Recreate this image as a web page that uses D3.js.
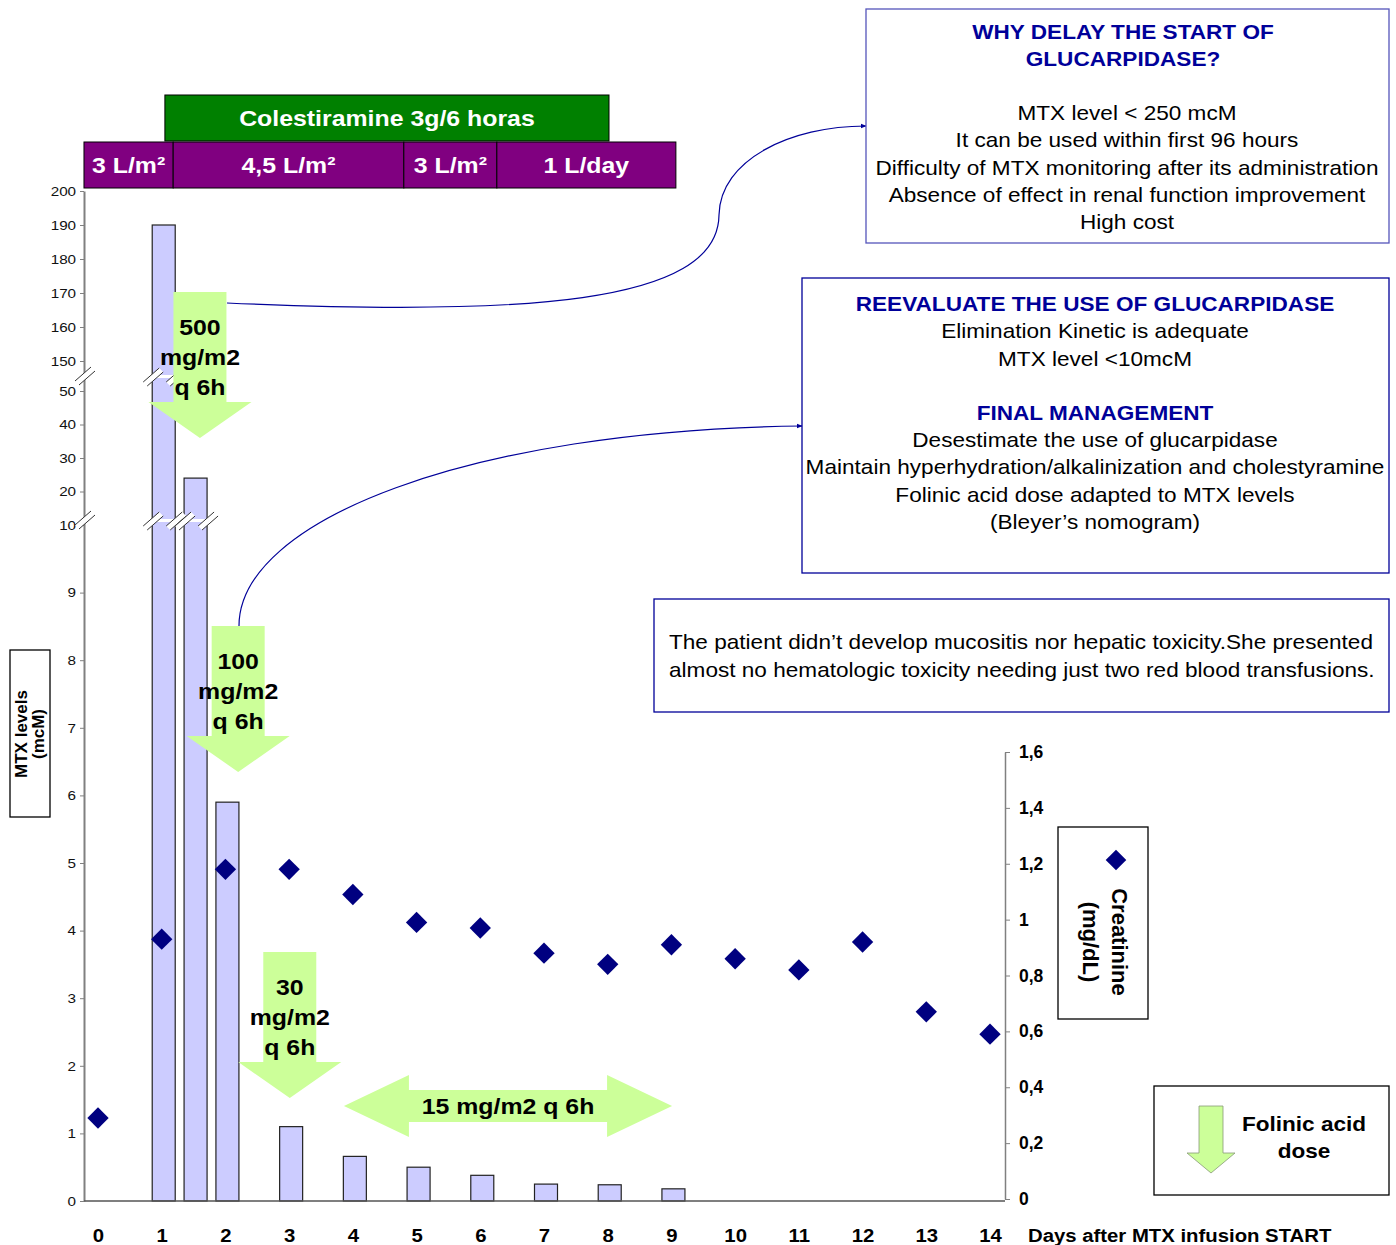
<!DOCTYPE html>
<html>
<head>
<meta charset="utf-8">
<script src="https://cdn.jsdelivr.net/npm/d3@7"></script>
<style>
  body { margin: 0; background: #fff; }
  svg { font-family: "Liberation Sans", Arial, sans-serif; }
</style>
</head>
<body>
<div id="chart"></div>
<script>
// MTX levels (mcM), bars
var mtxDays = [1, 1.5, 2, 3, 4, 5, 6, 7, 8, 9];
var mtxValues = [190, 24, 5.9, 1.1, 0.66, 0.5, 0.38, 0.25, 0.24, 0.18];

// Creatinine (mg/dL), diamonds
var creaDays = [0, 1, 2, 3, 4, 5, 6, 7, 8, 9, 10, 11, 12, 13, 14];
var creaValues = [0.29, 0.93, 1.18, 1.18, 1.09, 0.99, 0.97, 0.88, 0.84, 0.91, 0.86, 0.82, 0.92, 0.67, 0.59];

// tick labels
var dayTicks = [0, 1, 2, 3, 4, 5, 6, 7, 8, 9, 10, 11, 12, 13, 14];
var mtxTicks = [0, 1, 2, 3, 4, 5, 6, 7, 8, 9, 10, 20, 30, 40, 50, 150, 160, 170, 180, 190, 200];
var creaTicks = [0, 0.2, 0.4, 0.6, 0.8, 1, 1.2, 1.4, 1.6];

// hydration periods (days) and cholestyramine
var fluidLabels = ['3 L/m\u00b2', '4,5 L/m\u00b2', '3 L/m\u00b2', '1 L/day'];
var fluidStart = [-0.22, 1.18, 4.8, 6.26];
var fluidEnd = [1.18, 4.8, 6.26, 9.07];
var cholLabel = 'Colestiramine 3g/6 horas';
var cholSpan = [1.05, 8.02];

// folinic acid doses
var doseDays = [1.6, 2.2, 3.01];
var doseLabels = [['500', 'mg/m2', 'q 6h'], ['100', 'mg/m2', 'q 6h'], ['30', 'mg/m2', 'q 6h']];
var lowDoseSpan = [3.86, 9.01];
var lowDoseLabel = '15 mg/m2 q 6h';

// text boxes
var box1Title = ['WHY DELAY THE START OF', 'GLUCARPIDASE?'];
var box1Lines = ['MTX level < 250 mcM', 'It can be used within first 96 hours',
  'Difficulty of MTX monitoring after its administration',
  'Absence of effect in renal function improvement', 'High cost'];
var box2Title = 'REEVALUATE THE USE OF GLUCARPIDASE';
var box2Lines = ['Elimination Kinetic is adequate', 'MTX level <10mcM'];
var box3Title = 'FINAL MANAGEMENT';
var box3Lines = ['Desestimate the use of glucarpidase',
  'Maintain hyperhydration/alkalinization and cholestyramine',
  'Folinic acid dose adapted to MTX levels', '(Bleyer\u2019s nomogram)'];
var noteLines = ['The patient didn\u2019t develop mucositis nor hepatic toxicity.She presented',
  'almost no hematologic toxicity needing just two red blood transfusions.'];

var width = 1396, height = 1245;
var barWidth = 23;
var SX = 1.13; // text in the original is drawn a bit wide
var green = '#ccff99', navy = '#000080';

var svg = d3.select('#chart').append('svg')
  .attr('width', width)
  .attr('height', height);

svg.append('defs').append('marker')
  .attr('id', 'arr')
  .attr('viewBox', '0 0 10 10')
  .attr('refX', 9).attr('refY', 5)
  .attr('markerWidth', 5).attr('markerHeight', 5)
  .attr('orient', 'auto')
  .append('path')
  .attr('d', 'M0,1 L10,5 L0,9 z')
  .attr('fill', '#000099');

// horizontally widened text
function txt(x1, y1, s, o) {
  o = o || {};
  return svg.append('text')
    .attr('transform', 'translate(' + x1 + ',' + y1 + ') scale(' + SX + ',1)')
    .attr('text-anchor', o.anchor || 'middle')
    .attr('font-size', o.size || 20)
    .attr('font-weight', o.bold ? 'bold' : 'normal')
    .attr('fill', o.color || '#000')
    .text(s);
}

// scales (left axis is broken: 0-10, 10-50, 150-200)
var x = d3.scaleLinear().domain([0, 14]).range([98, 990]);
var yMtx = d3.scaleLinear().domain([0, 10, 50, 150, 200]).range([1201, 525, 391, 361, 191]);
var yCrea = d3.scaleLinear().domain([0, 1.6]).range([1199, 752]);

var x0 = 84, xRight = 1005;

// bars
svg.selectAll('.bar')
  .data(mtxDays)
  .enter().append('rect')
  .attr('class', 'bar')
  .attr('x', function (d) { return x(d) - barWidth / 2 + 2; })
  .attr('y', function (d, i) { return yMtx(mtxValues[i]); })
  .attr('width', barWidth)
  .attr('height', function (d, i) { return yMtx(0) - yMtx(mtxValues[i]); })
  .attr('fill', '#ccccff')
  .attr('stroke', '#222')
  .attr('stroke-width', 1.2);

// left axis
var gy = svg.append('g')
  .attr('transform', 'translate(' + x0 + ',0)')
  .call(d3.axisLeft(yMtx).tickValues(mtxTicks).tickSize(4).tickSizeOuter(0).tickPadding(3));
gy.select('.domain').attr('stroke', '#808080').attr('stroke-width', 2);
gy.selectAll('.tick line').attr('stroke', '#808080');
gy.selectAll('text')
  .attr('font-size', 13.5).attr('fill', '#111').attr('font-family', '"Liberation Sans", Arial')
  .attr('transform', 'scale(' + SX + ',1)');

// axis breaks
var breakHi = (yMtx(50) + yMtx(150)) / 2;
var breakLo = yMtx(10) - 6;

function breakMark(cx, cy) {
  var g = svg.append('g').attr('transform', 'translate(' + cx + ',' + cy + ')');
  g.append('path').attr('d', 'M-9,6 L7,-8 L11,-4 L-5,10 z').attr('fill', '#fff');
  g.append('line').attr('x1', -9).attr('y1', 6).attr('x2', 7).attr('y2', -8).attr('stroke', '#333').attr('stroke-width', 1);
  g.append('line').attr('x1', -5).attr('y1', 10).attr('x2', 11).attr('y2', -4).attr('stroke', '#333').attr('stroke-width', 1);
}

breakMark(x0, breakHi - 1);
breakMark(x0, breakLo);
mtxDays.forEach(function (d, i) {
  var bx = x(d) - barWidth / 2 + 2;
  [breakHi - 1, breakLo].forEach(function (cy) {
    if (yMtx(mtxValues[i]) < cy - 4) {
      svg.append('rect').attr('x', bx + 0.6).attr('y', cy).attr('width', barWidth - 1.2).attr('height', 3).attr('fill', '#fff');
      breakMark(bx, cy + 1);
      breakMark(bx + barWidth, cy + 1);
    }
  });
});

// x axis
svg.append('line')
  .attr('x1', x0).attr('x2', xRight)
  .attr('y1', yMtx(0)).attr('y2', yMtx(0))
  .attr('stroke', '#555').attr('stroke-width', 1.5);

var gx = svg.append('g')
  .attr('transform', 'translate(0,' + yMtx(0) + ')')
  .call(d3.axisBottom(x).tickValues(dayTicks).tickSize(0).tickPadding(28));
gx.select('.domain').remove();
gx.selectAll('text')
  .attr('font-size', 18).attr('font-weight', 'bold').attr('fill', '#000').attr('font-family', '"Liberation Sans", Arial')
  .attr('transform', 'scale(' + SX + ',1)');

txt(1028, 1242, 'Days after MTX infusion START', { anchor: 'start', size: 18, bold: true });

// right axis
var gr = svg.append('g')
  .attr('transform', 'translate(' + xRight + ',0)')
  .call(d3.axisRight(yCrea).tickValues(creaTicks).tickSize(5).tickSizeOuter(0).tickPadding(9)
    .tickFormat(function (d) { return String(d).replace('.', ','); }));
gr.select('.domain').attr('stroke', '#808080').attr('stroke-width', 1.5);
gr.selectAll('.tick line').attr('stroke', '#808080');
gr.selectAll('text')
  .attr('font-size', 17.5).attr('font-weight', 'bold').attr('fill', '#000').attr('font-family', '"Liberation Sans", Arial');

// creatinine diamonds
svg.selectAll('.crea')
  .data(creaDays)
  .enter().append('path')
  .attr('class', 'crea')
  .attr('d', d3.symbol().type(d3.symbolDiamond2).size(290))
  .attr('transform', function (d, i) { return 'translate(' + x(d) + ',' + yCrea(creaValues[i]) + ')'; })
  .attr('fill', navy);

// hydration bands
svg.selectAll('.band')
  .data(fluidLabels)
  .enter().append('rect')
  .attr('class', 'band')
  .attr('x', function (d, i) { return x(fluidStart[i]); })
  .attr('y', 142)
  .attr('width', function (d, i) { return x(fluidEnd[i]) - x(fluidStart[i]); })
  .attr('height', 46)
  .attr('fill', '#800080')
  .attr('stroke', '#000').attr('stroke-width', 1);
fluidLabels.forEach(function (d, i) {
  txt((x(fluidStart[i]) + x(fluidEnd[i])) / 2, 173, d, { size: 22, bold: true, color: '#fff' });
});

svg.append('rect')
  .attr('x', x(cholSpan[0])).attr('y', 95)
  .attr('width', x(cholSpan[1]) - x(cholSpan[0])).attr('height', 46)
  .attr('fill', '#008000').attr('stroke', '#000').attr('stroke-width', 1);
txt((x(cholSpan[0]) + x(cholSpan[1])) / 2, 126, cholLabel, { size: 22, bold: true, color: '#fff' });

// connectors to the boxes
svg.append('path')
  .attr('d', 'M227,303 C520,316 718,305 719,215 C720,160 790,126 866,126')
  .attr('fill', 'none').attr('stroke', '#000099').attr('stroke-width', 1.2)
  .attr('marker-end', 'url(#arr)');
svg.append('path')
  .attr('d', 'M239,626 C239,520 470,430 802,426')
  .attr('fill', 'none').attr('stroke', '#000099').attr('stroke-width', 1.2)
  .attr('marker-end', 'url(#arr)');

// dose arrows
var doseTop = [292, 626, 952];
function downArrow(cx, top, sw, sh, hw, hh) {
  return 'M' + (cx - sw / 2) + ',' + top + ' L' + (cx + sw / 2) + ',' + top +
    ' L' + (cx + sw / 2) + ',' + (top + sh) + ' L' + (cx + hw / 2) + ',' + (top + sh) +
    ' L' + cx + ',' + (top + sh + hh) + ' L' + (cx - hw / 2) + ',' + (top + sh) +
    ' L' + (cx - sw / 2) + ',' + (top + sh) + ' z';
}
doseDays.forEach(function (d, i) {
  var cx = x(d);
  svg.append('path').attr('d', downArrow(cx, doseTop[i], 53, 110, 103, 36)).attr('fill', green);
  doseLabels[i].forEach(function (s, j) {
    txt(cx, doseTop[i] + 43 + j * 30, s, { size: 22, bold: true });
  });
});

// double arrow for the low dose
var xa = x(lowDoseSpan[0]), xb = x(lowDoseSpan[1]), ym = 1106;
svg.append('path')
  .attr('d', 'M' + xa + ',' + ym + ' L' + (xa + 65) + ',' + (ym - 31) + ' L' + (xa + 65) + ',' + (ym - 16) +
    ' L' + (xb - 65) + ',' + (ym - 16) + ' L' + (xb - 65) + ',' + (ym - 31) + ' L' + xb + ',' + ym +
    ' L' + (xb - 65) + ',' + (ym + 31) + ' L' + (xb - 65) + ',' + (ym + 16) + ' L' + (xa + 65) + ',' + (ym + 16) +
    ' L' + (xa + 65) + ',' + (ym + 31) + ' z')
  .attr('fill', green);
txt((xa + xb) / 2, ym + 8, lowDoseLabel, { size: 22, bold: true });

// text boxes
function box(x1, y1, w, h, stroke) {
  svg.append('rect').attr('x', x1).attr('y', y1).attr('width', w).attr('height', h)
    .attr('fill', '#fff').attr('stroke', stroke).attr('stroke-width', 1.3);
}
function lines(arr, cx, y1, step, o) {
  arr.forEach(function (s, i) { txt(cx, y1 + i * step, s, o); });
}

box(866, 9, 523, 234, '#5555bb');
lines(box1Title, 1123, 39, 27, { bold: true, color: '#000099' });
lines(box1Lines, 1127, 120, 27.3, {});

box(802, 278, 587, 295, '#000099');
lines([box2Title], 1095, 311, 27, { bold: true, color: '#000099' });
lines(box2Lines, 1095, 338, 28, {});
lines([box3Title], 1095, 420, 27, { bold: true, color: '#000099' });
lines(box3Lines, 1095, 447, 27.3, {});

box(654, 599, 735, 113, '#000099');
lines(noteLines, 669, 649, 28, { anchor: 'start' });

// MTX axis title
box(10, 650, 40, 167, '#000');
var tm = svg.append('text')
  .attr('transform', 'translate(27,734) rotate(-90)')
  .attr('text-anchor', 'middle')
  .attr('font-size', 17).attr('font-weight', 'bold');
tm.append('tspan').attr('x', 0).attr('y', 0).text('MTX levels');
tm.append('tspan').attr('x', 0).attr('y', 17).text('(mcM)');

// creatinine legend
box(1058, 827, 90, 192, '#000');
svg.append('path')
  .attr('d', d3.symbol().type(d3.symbolDiamond2).size(270))
  .attr('transform', 'translate(1116,860)')
  .attr('fill', navy);
var tc = svg.append('text')
  .attr('transform', 'translate(1112,942) rotate(90)')
  .attr('text-anchor', 'middle')
  .attr('font-size', 22).attr('font-weight', 'bold');
tc.append('tspan').attr('x', 0).attr('y', 0).text('Creatinine');
tc.append('tspan').attr('x', 0).attr('y', 29).text('(mg/dL)');

// folinic acid legend
box(1154, 1086, 235, 109, '#000');
svg.append('path')
  .attr('d', downArrow(1211, 1106, 24, 47, 48, 20))
  .attr('fill', green).attr('stroke', '#889977').attr('stroke-width', 0.8);
lines(['Folinic acid', 'dose'], 1304, 1131, 27, { bold: true, size: 20 });
</script>
</body>
</html>
